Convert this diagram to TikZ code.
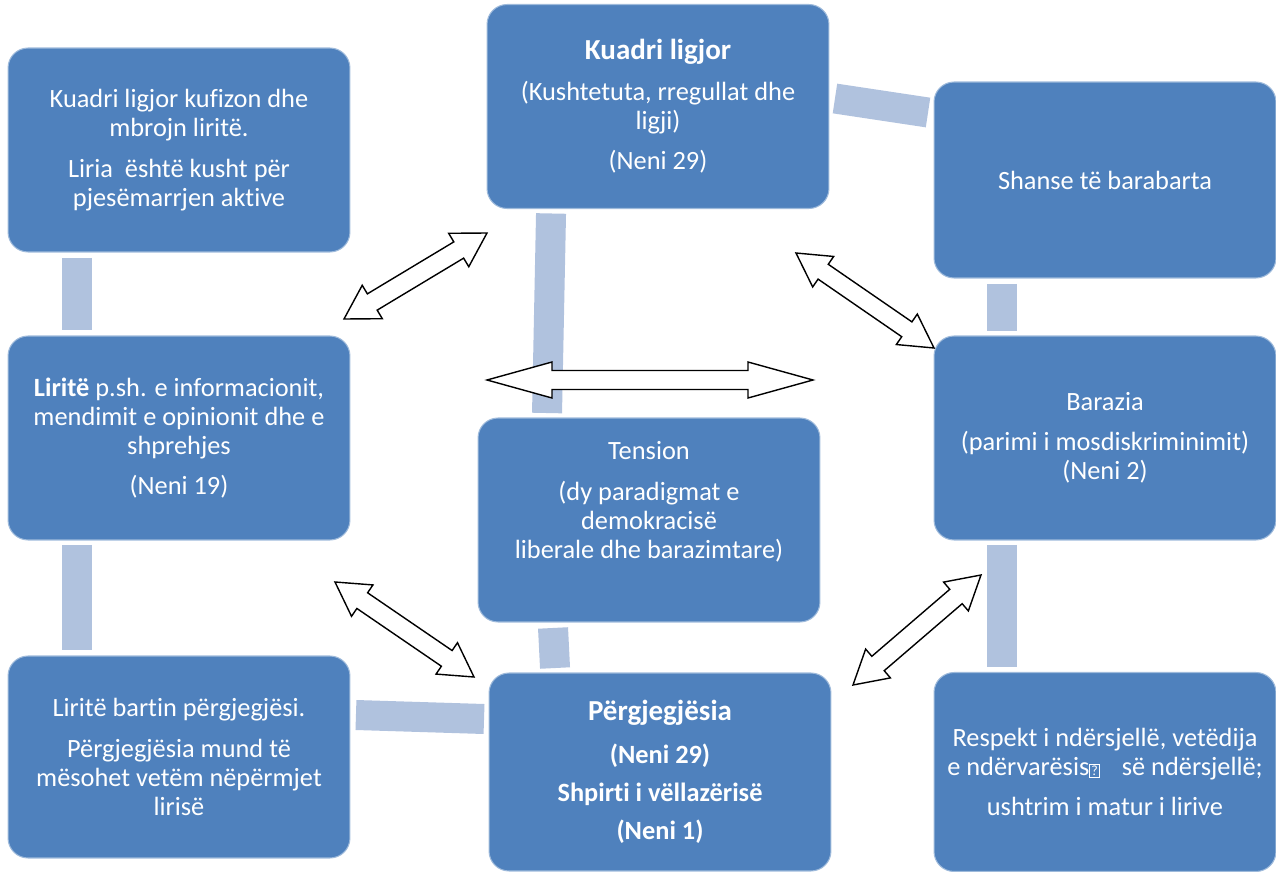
\documentclass[tikz,border=0pt]{standalone}
\usepackage{fontspec}
\setmainfont{Carlito}[Ligatures=NoCommon]
\usepackage{xcolor}
\usepackage{tikz}
\usetikzlibrary{calc}

\definecolor{boxblue}{HTML}{4F81BD}
\definecolor{barblue}{HTML}{B0C2DE}

% block double arrow: from, to, head length, head half width, shaft half width
\newcommand{\dblarrow}[5]{%
  \draw[dbl] (#1)
    -- ($(#1)!#3!(#2)!#4!90:(#2)$)
    -- ($(#1)!#3!(#2)!#5!90:(#2)$)
    -- ($(#2)!#3!(#1)!#5!-90:(#1)$)
    -- ($(#2)!#3!(#1)!#4!-90:(#1)$)
    -- (#2)
    -- ($(#2)!#3!(#1)!#4!90:(#1)$)
    -- ($(#2)!#3!(#1)!#5!90:(#1)$)
    -- ($(#1)!#3!(#2)!#5!-90:(#2)$)
    -- ($(#1)!#3!(#2)!#4!-90:(#2)$)
    -- cycle;}

\newcommand{\qbox}{{\setlength{\fboxsep}{0.8pt}\setlength{\fboxrule}{0.4pt}\fbox{\fontsize{8}{8}\selectfont ?}}}
\newcommand{\headfont}{\fontsize{16.5}{16.5}\selectfont}

\begin{document}
\begin{tikzpicture}[x=0.02cm, y=-0.02cm,
  box/.style={rectangle, fill=boxblue, draw=boxblue!55!white, line width=0.6pt, rounded corners=0.4cm, minimum width=6.84cm, minimum height=4.08cm, outer sep=0pt, inner sep=0pt, align=center, text=white, font=\fontsize{15}{16.5}\selectfont},
  bar/.style={draw=barblue, line width=0.6cm},
  dbl/.style={draw=black, fill=white, line width=0.8pt, line join=miter}
]
\useasboundingbox (0,0) rectangle (1276,872);

\node[box] (lawlim) at (179,150) {Kuadri ligjor kufizon dhe\\ mbrojn liritë.\\[6.5pt] Liria\ \ është kusht për\\ pjesëmarrjen aktive};

\node[box] (legal) at (658,106.5) {{\headfont\bfseries Kuadri ligjor}\\[6.5pt] (Kushtetuta, rregullat dhe\\ ligji)\\[6.5pt] (Neni 29)};

\node[box, minimum height=3.92cm] (chances) at (1105,180) {Shanse të barabarta};

\node[box] (freedoms) at (179,438) {\textbf{Liritë} p.sh. e informacionit,\\ mendimit e opinionit dhe e\\ shprehjes\\[6.5pt] (Neni 19)};

\node[box] (tension) at (649,520) {Tension\\[6.5pt] (dy paradigmat e\\ demokracisë\\ liberale dhe barazimtare)\\[6.5pt] \mbox{}};

\node[box] (equality) at (1105,438) {Barazia\\[6.5pt] (parimi i mosdiskriminimit)\\ (Neni 2)};

\node[box, minimum height=4.04cm] (duties) at (179,757) {Liritë bartin përgjegjësi.\\[6.5pt] Përgjegjësia mund të\\ mësohet vetëm nëpërmjet\\ lirisë};

\node[box, minimum height=3.96cm, font=\bfseries\fontsize{15}{16.5}\selectfont] (resp) at (660,772) {{\headfont Përgjegjësia}\\[8pt] (Neni 29)\\[5pt] Shpirti i vëllazërisë\\[5pt] (Neni 1)};

\node[box, minimum height=3.98cm] (respect) at (1105,772) {Respekt i ndërsjellë, vetëdija\\ e ndërvarësis\qbox\hspace{0.6em} së ndërsjellë;\\[6pt] ushtrim i matur i lirive};

% light connectors
\draw[bar] ($(lawlim.south west)+(69,6)$) -- ($(freedoms.north west)+(69,-6)$);
\draw[bar] ($(freedoms.south west)+(69,5)$) -- ($(duties.north west)+(69,-6)$);
\draw[bar] ($(legal.south west)+(64,5)$) -- ($(tension.north west)+(69,-5)$);
\draw[bar] ($(tension.south west)+(75,6)$) -- ($(resp.north west)+(66,-5)$);
\draw[bar] ($(duties.east)+(6,-42)$) -- ($(resp.west)+(-5,-53)$);
\draw[bar] ($(legal.east)+(6,-8)$) -- ($(chances.north west)+(-6,30.5)$);
\draw[bar] ($(chances.south west)+(68,6)$) -- ($(equality.north west)+(68,-5)$);
\draw[bar] ($(equality.south west)+(68,5)$) -- ($(respect.north west)+(68,-6)$);

% double arrows
\coordinate (a1s) at (344,319);
\coordinate (a1e) at (487,233);
\coordinate (a2s) at (487,380);
\coordinate (a2e) at (813,380);
\coordinate (a3s) at (796,253);
\coordinate (a3e) at (934,348);
\coordinate (a4s) at (335,582);
\coordinate (a4e) at (474,677);
\coordinate (a5s) at (853,685);
\coordinate (a5e) at (981,575);

\dblarrow{a1s}{a1e}{0.66cm}{0.39cm}{0.19cm}
\dblarrow{a2s}{a2e}{1.3cm}{0.36cm}{0.19cm}
\dblarrow{a3s}{a3e}{0.66cm}{0.37cm}{0.18cm}
\dblarrow{a4s}{a4e}{0.66cm}{0.38cm}{0.19cm}
\dblarrow{a5s}{a5e}{0.66cm}{0.38cm}{0.19cm}

\end{tikzpicture}
\end{document}
